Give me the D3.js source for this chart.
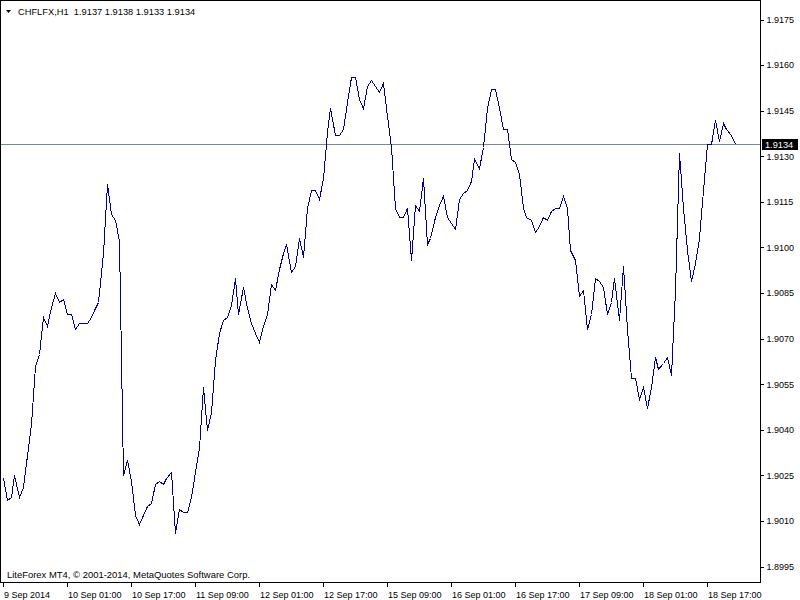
<!DOCTYPE html>
<html>
<head>
<meta charset="utf-8">
<script src="https://cdn.jsdelivr.net/npm/d3@7"></script>
<style>
  html, body { margin: 0; padding: 0; background: #fff; }
  svg { display: block; }
  text { font-family: "Liberation Sans", Arial, sans-serif; font-size: 9px; fill: #000; }
</style>
</head>
<body>
<svg id="chart" width="800" height="600"></svg>
<script>
// ---- data ----
const symbol = "CHFLFX,H1";
const lastOHLC = [1.9137, 1.9138, 1.9133, 1.9134];
const closes = [
  1.9024, 1.9017, 1.9018, 1.9025, 1.9018, 1.9021, 1.9029, 1.9042, 1.9061, 1.9065,
  1.9077, 1.9074, 1.9079, 1.9085, 1.9082, 1.9083, 1.9078, 1.9078, 1.9073, 1.9075,
  1.9075, 1.9075, 1.9077, 1.9080, 1.9082, 1.9098, 1.9121, 1.9111, 1.9109, 1.9102,
  1.9025, 1.9030, 1.9023, 1.9012, 1.9009, 1.9012, 1.9015, 1.9016, 1.9022, 1.9023,
  1.9022, 1.9024, 1.9026, 1.9006, 1.9014, 1.9013, 1.9013, 1.9018, 1.9024, 1.9034,
  1.9054, 1.9040, 1.9046, 1.9063, 1.9072, 1.9076, 1.9077, 1.9081, 1.9090, 1.9078,
  1.9087, 1.9080, 1.9075, 1.9072, 1.9069, 1.9074, 1.9078, 1.9088, 1.9086, 1.9093,
  1.9098, 1.9101, 1.9092, 1.9094, 1.9103, 1.9097, 1.9113, 1.9119, 1.9119, 1.9116,
  1.9123, 1.9138, 1.9146, 1.9137, 1.9137, 1.9139, 1.9148, 1.9156, 1.9156, 1.9149,
  1.9146, 1.9153, 1.9155, 1.9153, 1.9151, 1.9154, 1.9146, 1.9133, 1.9113, 1.9110,
  1.9110, 1.9113, 1.9096, 1.9114, 1.9112, 1.9123, 1.9101, 1.9103, 1.9110, 1.9114,
  1.9117, 1.9110, 1.9108, 1.9106, 1.9116, 1.9118, 1.9119, 1.9122, 1.9129, 1.9126,
  1.9133, 1.9146, 1.9152, 1.9152, 1.9146, 1.9139, 1.9139, 1.9129, 1.9128, 1.9124,
  1.9113, 1.9110, 1.9109, 1.9105, 1.9107, 1.9110, 1.9109, 1.9112, 1.9113, 1.9113,
  1.9117, 1.9113, 1.9099, 1.9096, 1.9084, 1.9086, 1.9073, 1.9078, 1.9090, 1.9089,
  1.9087, 1.9078, 1.9082, 1.9090, 1.9076, 1.9094, 1.9073, 1.9057, 1.9057, 1.9050,
  1.9054, 1.9047, 1.9054, 1.9064, 1.9060, 1.9062, 1.9064, 1.9058, 1.9086, 1.9131,
  1.9113, 1.9099, 1.9089, 1.9095, 1.9103, 1.9115, 1.9134, 1.9134, 1.9142, 1.9135,
  1.9141, 1.9139, 1.9137, 1.9134
];
const priceTicks = [1.9175, 1.9160, 1.9145, 1.9130, 1.9115, 1.9100, 1.9085, 1.9070, 1.9055, 1.9040, 1.9025, 1.9010, 1.8995];
const timeLabels = ["9 Sep 2014", "10 Sep 01:00", "10 Sep 17:00", "11 Sep 09:00", "12 Sep 01:00", "12 Sep 17:00",
                    "15 Sep 09:00", "16 Sep 01:00", "16 Sep 17:00", "17 Sep 09:00", "18 Sep 01:00", "18 Sep 17:00"];
const timeLabelBars = [0, 16, 32, 48, 64, 80, 96, 112, 128, 144, 160, 176];
const copyright = "LiteForex MT4, \u00A9 2001-2014, MetaQuotes Software Corp.";

// ---- layout ----
const svg = d3.select("#chart");
const frameW = 760, frameH = 582;

const x = d3.scaleLinear().domain([0, 176]).range([2.5, 706.5]);
const y = d3.scaleLinear().domain([1.8995, 1.9175]).range([566.5, 19.5]);

svg.append("rect").attr("width", 800).attr("height", 600).attr("fill", "#fff");

// current price line
const last = closes[closes.length - 1];
svg.append("line")
  .attr("x1", 0).attr("x2", frameW)
  .attr("y1", Math.round(y(last)) + 0.5).attr("y2", Math.round(y(last)) + 0.5)
  .attr("stroke", "#778899").attr("stroke-width", 1)
  .attr("shape-rendering", "crispEdges");

// price line
const line = d3.line()
  .x((d, i) => Math.round(x(i)) + 0.5)
  .y(d => Math.round(y(d)) + 0.5);
svg.append("path")
  .datum(closes)
  .attr("d", line)
  .attr("fill", "none")
  .attr("stroke", "#000096")
  .attr("stroke-width", 1)
  .attr("shape-rendering", "crispEdges");

// frame
svg.append("rect")
  .attr("x", 0.5).attr("y", 0.5)
  .attr("width", frameW).attr("height", frameH)
  .attr("fill", "none").attr("stroke", "#000")
  .attr("shape-rendering", "crispEdges");

// right axis
const yAxis = d3.axisRight(y)
  .tickValues(priceTicks)
  .tickFormat(d3.format(".4f"))
  .tickSize(3).tickPadding(3);
const gy = svg.append("g")
  .attr("transform", `translate(${frameW + 0.5},0)`)
  .call(yAxis);
gy.select(".domain").remove();
gy.selectAll(".tick line").attr("stroke", "#000").attr("shape-rendering", "crispEdges");
gy.selectAll(".tick text").attr("font-family", "Liberation Sans, Arial, sans-serif").attr("font-size", 9.2).attr("fill", "#000");

// bottom axis
const xAxis = d3.axisBottom(x)
  .tickValues(timeLabelBars)
  .tickFormat((d, i) => timeLabels[i])
  .tickSize(4).tickPadding(5);
const gx = svg.append("g")
  .attr("transform", `translate(0,${frameH + 0.5})`)
  .call(xAxis);
gx.select(".domain").remove();
gx.selectAll(".tick line").attr("stroke", "#000").attr("shape-rendering", "crispEdges");
gx.selectAll(".tick text")
  .attr("text-anchor", "start").attr("dx", 1)
  .attr("font-family", "Liberation Sans, Arial, sans-serif").attr("font-size", 9).attr("fill", "#000");

// current price label
const ly = Math.round(y(last));
svg.append("rect")
  .attr("x", 762).attr("y", ly - 5)
  .attr("width", 36).attr("height", 11)
  .attr("fill", "#000");
svg.append("text")
  .attr("x", 765).attr("y", ly + 4)
  .style("fill", "#fff")
  .style("font-size", "9.2px")
  .text(d3.format(".4f")(last));

// title
svg.append("path")
  .attr("d", "M6,10 L11,10 L8.5,13 Z")
  .attr("fill", "#000");
svg.append("text")
  .attr("x", 18).attr("y", 15)
  .attr("xml:space", "preserve")
  .style("white-space", "pre")
  .style("font-size", "9.3px")
  .text(symbol + "  " + lastOHLC.map(d3.format(".4f")).join(" "));

// copyright
svg.append("text")
  .attr("x", 7).attr("y", 578)
  .style("font-size", "9.45px")
  .text(copyright);
</script>
</body>
</html>
